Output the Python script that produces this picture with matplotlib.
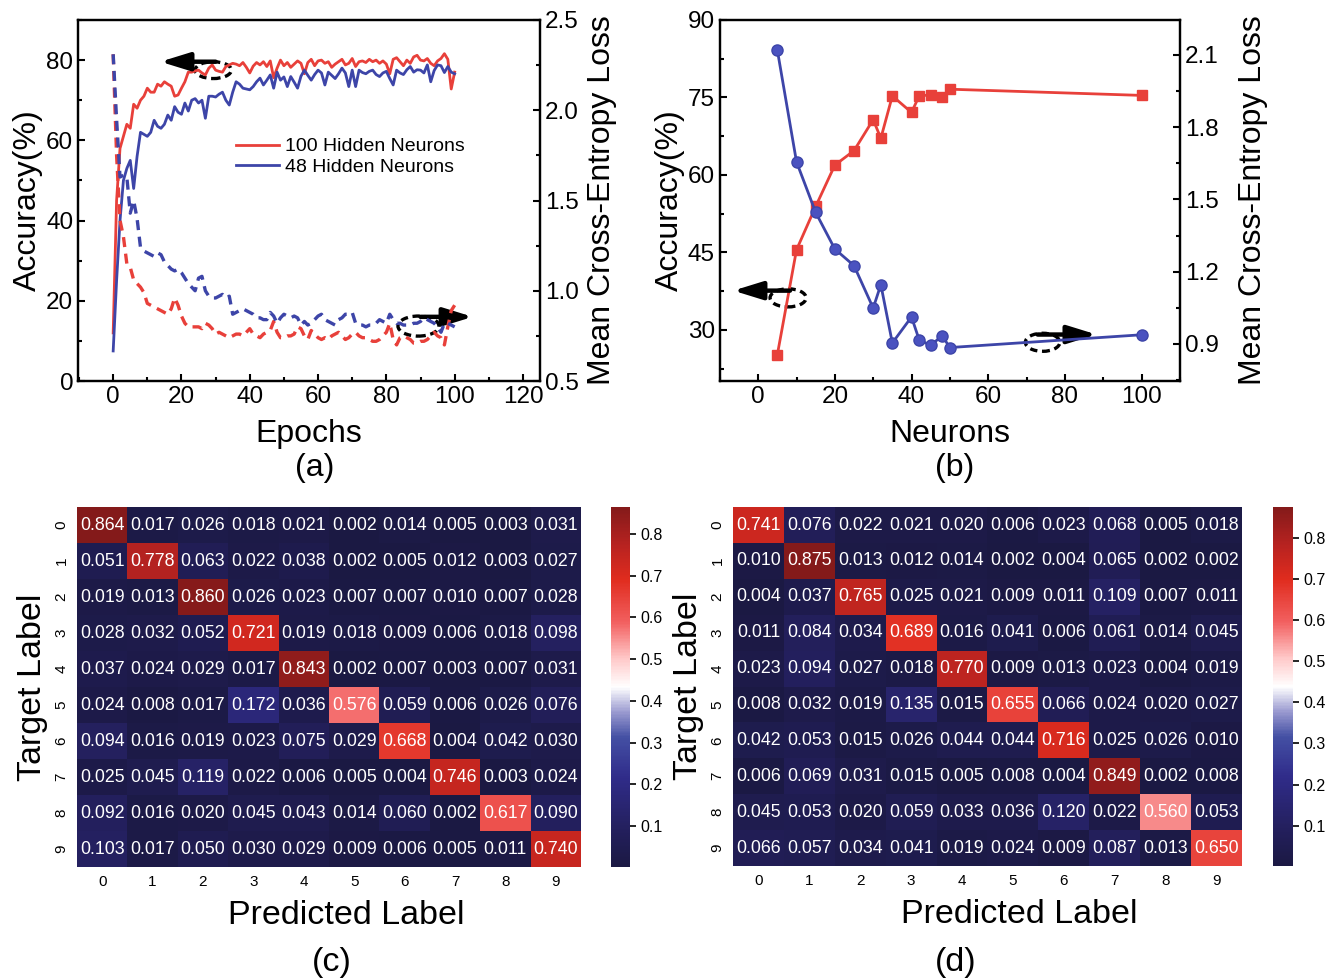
import numpy as np
import matplotlib
matplotlib.use('Agg')
import matplotlib.pyplot as plt
from matplotlib.colors import LinearSegmentedColormap
from matplotlib.patches import Ellipse
import seaborn as sns

plt.rcParams['font.family'] = ['Liberation Sans', 'DejaVu Sans']

### Data
epochs = np.arange(0, 101)
acc_100 = [12, 45, 58, 61, 64, 63, 69, 68, 70, 71, 73, 72, 72, 74, 73.5, 74.6, 74, 73.5, 71, 71.3,
           73, 74.6, 77, 77, 77.3, 77.5, 76.8, 76.3, 78, 78.8, 77.5, 77.2, 77, 78.4, 78.8, 79.2, 79, 78.6, 79.4, 78.2,
           76.8, 78.5, 79.4, 78.8, 79.6, 78.4, 79.8, 75.6, 78, 80, 78.6, 79.4, 78.2, 79, 79.8, 79.2, 76.6, 79.4, 80.2, 78.6,
           79.8, 80, 79.2, 79.6, 78.2, 79, 79.6, 80.2, 78.8, 79.2, 80.4, 78.4, 79.6, 79.8, 79.4, 80.2, 79.6, 80, 79.2, 79.8,
           79, 76.6, 80.2, 80.6, 79.6, 78.6, 80, 79.2, 80.8, 81.2, 80, 79.8, 80.4, 79.2, 78.6, 79.8, 80.4, 81.6, 80.2, 72.8,
           77]
acc_48 = [7.5, 25, 40, 50, 53, 55, 48, 56, 62, 61.5, 61, 62, 65, 63.5, 63, 64, 66.3, 65, 68.4, 67,
          66.5, 69.3, 67.3, 70, 70.4, 69.3, 70, 65.5, 71, 71, 70.8, 71.5, 72, 70, 68.8, 72, 74.6, 74, 73, 72.8,
          72.6, 73.4, 74.6, 75.5, 73.8, 75, 76.3, 73, 77, 75, 75.8, 73.4, 75.9, 74.5, 73, 76, 77.5, 76.2, 75, 76.4,
          77.5, 76.8, 73.8, 77, 76.2, 75.4, 76.6, 78, 76.8, 73.4, 77.5, 73.4, 77.5, 76.9, 76.6, 77.2, 77.5, 76.4, 75.9, 76.8,
          77.2, 75.4, 73.8, 77.5, 76.8, 76.4, 77.6, 78.4, 77, 77.6, 77.5, 76.8, 78.8, 74.6, 77.4, 78.8, 78.6, 76.9, 78.4, 77,
          76.6]
loss_100 = [2.31, 1.75, 1.39, 1.3, 1.15, 1.13, 1.06, 1.04, 1.02, 0.99, 0.93, 0.92, 0.91, 0.9, 0.89, 0.88, 0.87, 0.9, 0.96, 0.92,
            0.86, 0.82, 0.8, 0.8, 0.8, 0.8, 0.79, 0.82, 0.81, 0.79, 0.76, 0.77, 0.76, 0.75, 0.74, 0.75, 0.76, 0.76, 0.75, 0.77,
            0.79, 0.76, 0.75, 0.74, 0.76, 0.77, 0.78, 0.83, 0.77, 0.74, 0.74, 0.75, 0.75, 0.76, 0.8, 0.79, 0.75, 0.73, 0.78, 0.76,
            0.74, 0.73, 0.74, 0.73, 0.75, 0.76, 0.77, 0.75, 0.73, 0.74, 0.76, 0.77, 0.75, 0.74, 0.74, 0.73, 0.72, 0.72, 0.73, 0.75,
            0.77, 0.82, 0.73, 0.7, 0.74, 0.75, 0.74, 0.73, 0.71, 0.71, 0.72, 0.72, 0.73, 0.75, 0.77, 0.75, 0.74, 0.7, 0.8, 0.89,
            0.92]
loss_48 = [2.31, 1.95, 1.63, 1.64, 1.63, 1.43, 1.5, 1.4, 1.24, 1.22, 1.21, 1.2, 1.19, 1.21, 1.2, 1.16, 1.14, 1.12, 1.11, 1.12,
           1.1, 1.07, 1.04, 1.02, 1.0, 1.07, 1.08, 1.0, 0.97, 0.96, 0.96, 0.97, 0.98, 0.96, 0.97, 0.87, 0.88, 0.89, 0.9, 0.89,
           0.88, 0.87, 0.85, 0.85, 0.84, 0.84, 0.88, 0.86, 0.82, 0.85, 0.87, 0.86, 0.85, 0.86, 0.85, 0.81, 0.83, 0.81, 0.82, 0.84,
           0.86, 0.87, 0.84, 0.83, 0.82, 0.81, 0.84, 0.85, 0.87, 0.87, 0.88, 0.82, 0.81, 0.81, 0.8, 0.81, 0.81, 0.82, 0.84, 0.83,
           0.82, 0.87, 0.84, 0.82, 0.82, 0.81, 0.81, 0.81, 0.82, 0.82, 0.83, 0.85, 0.84, 0.83, 0.82, 0.8, 0.77, 0.82, 0.82, 0.81,
           0.8]

neurons = [5, 10, 15, 20, 25, 30, 32, 35, 40, 42, 45, 48, 50, 100]
acc_neurons = [25.2, 45.5, 53.9, 61.9, 64.7, 70.7, 67.1, 75.3, 72.1, 75.3, 75.5, 75.0, 76.6, 75.4]
loss_neurons = [2.12, 1.656, 1.446, 1.294, 1.225, 1.049, 1.146, 0.904, 1.012, 0.917, 0.894, 0.934, 0.885, 0.938]

digits = [str(i) for i in range(10)]
cm_c = np.array([
    [0.864, 0.017, 0.026, 0.018, 0.021, 0.002, 0.014, 0.005, 0.003, 0.031],
    [0.051, 0.778, 0.063, 0.022, 0.038, 0.002, 0.005, 0.012, 0.003, 0.027],
    [0.019, 0.013, 0.860, 0.026, 0.023, 0.007, 0.007, 0.010, 0.007, 0.028],
    [0.028, 0.032, 0.052, 0.721, 0.019, 0.018, 0.009, 0.006, 0.018, 0.098],
    [0.037, 0.024, 0.029, 0.017, 0.843, 0.002, 0.007, 0.003, 0.007, 0.031],
    [0.024, 0.008, 0.017, 0.172, 0.036, 0.576, 0.059, 0.006, 0.026, 0.076],
    [0.094, 0.016, 0.019, 0.023, 0.075, 0.029, 0.668, 0.004, 0.042, 0.030],
    [0.025, 0.045, 0.119, 0.022, 0.006, 0.005, 0.004, 0.746, 0.003, 0.024],
    [0.092, 0.016, 0.020, 0.045, 0.043, 0.014, 0.060, 0.002, 0.617, 0.090],
    [0.103, 0.017, 0.050, 0.030, 0.029, 0.009, 0.006, 0.005, 0.011, 0.740]])
cm_d = np.array([
    [0.741, 0.076, 0.022, 0.021, 0.020, 0.006, 0.023, 0.068, 0.005, 0.018],
    [0.010, 0.875, 0.013, 0.012, 0.014, 0.002, 0.004, 0.065, 0.002, 0.002],
    [0.004, 0.037, 0.765, 0.025, 0.021, 0.009, 0.011, 0.109, 0.007, 0.011],
    [0.011, 0.084, 0.034, 0.689, 0.016, 0.041, 0.006, 0.061, 0.014, 0.045],
    [0.023, 0.094, 0.027, 0.018, 0.770, 0.009, 0.013, 0.023, 0.004, 0.019],
    [0.008, 0.032, 0.019, 0.135, 0.015, 0.655, 0.066, 0.024, 0.020, 0.027],
    [0.042, 0.053, 0.015, 0.026, 0.044, 0.044, 0.716, 0.025, 0.026, 0.010],
    [0.006, 0.069, 0.031, 0.015, 0.005, 0.008, 0.004, 0.849, 0.002, 0.008],
    [0.045, 0.053, 0.020, 0.059, 0.033, 0.036, 0.120, 0.022, 0.560, 0.053],
    [0.066, 0.057, 0.034, 0.041, 0.019, 0.024, 0.009, 0.087, 0.013, 0.650]])

RED = '#e8403a'
BLUE = '#3d45a8'

cmap = LinearSegmentedColormap.from_list('rb', [
    (0.0, '#1b1943'), (0.1, '#231f5c'), (0.25, '#302c8a'), (0.36, '#4450a4'),
    (0.43, '#9a9ad0'), (0.5, '#ffffff'), (0.58, '#ffc8c8'), (0.68, '#f26060'),
    (0.8, '#e02c1e'), (0.9, '#b52220'), (1.0, '#841a1a')])

TICK_FS = 17.5
LABEL_FS = 23


def style_axis(ax):
    for s in ax.spines.values():
        s.set_linewidth(1.6)
    ax.tick_params(which='both', direction='in', width=1.5, labelsize=TICK_FS)
    ax.tick_params(which='major', length=5)
    ax.tick_params(which='minor', length=3)


def arrow_mark(ax, x0, x1, y, ex, ey, ew, eh):
    ax.annotate('', xy=(x1, y), xytext=(x0, y),
                arrowprops=dict(arrowstyle='-|>,head_length=1.1,head_width=0.34', lw=3.2, color='k',
                                mutation_scale=16, shrinkA=0, shrinkB=0))
    ax.add_patch(Ellipse((ex, ey), ew, eh, fill=False, ls=(0, (2.2, 1.4)), lw=2.4, color='k'))


fig = plt.figure(figsize=(13.38, 9.8), dpi=100)

### Panel (a)
ax = fig.add_axes([0.0583, 0.6112, 0.3453, 0.3684])
ax2 = ax.twinx()
ax.plot(epochs, acc_100, color=RED, lw=2, label='100 Hidden Neurons')
ax.plot(epochs, acc_48, color=BLUE, lw=2, label='48 Hidden Neurons')
ax2.plot(epochs, loss_100, color=RED, lw=2.4, ls=(0, (3, 2)))
ax2.plot(epochs, loss_48, color=BLUE, lw=2.4, ls=(0, (3, 2)))
ax.set_xlim(-10.3, 125)
ax.set_ylim(0, 90)
ax2.set_ylim(0.5, 2.5)
ax.set_xticks(range(0, 121, 20))
ax.set_xticks(range(-10, 126, 10), minor=True)
ax.set_yticks(range(0, 81, 20))
ax.set_yticks(range(10, 91, 20), minor=True)
ax2.set_yticks([0.5, 1.0, 1.5, 2.0, 2.5])
ax2.set_yticks([0.75, 1.25, 1.75, 2.25], minor=True)
style_axis(ax)
style_axis(ax2)
ax.set_xlabel('Epochs', fontsize=LABEL_FS, labelpad=8)
ax.set_ylabel('Accuracy(%)', fontsize=LABEL_FS, labelpad=2)
ax2.set_ylabel('Mean Cross-Entropy Loss', fontsize=LABEL_FS, labelpad=6)
ax.legend(loc='upper left', bbox_to_anchor=(0.325, 0.695), frameon=False, fontsize=14,
          handlelength=2.2, handletextpad=0.3, labelspacing=0.15, borderaxespad=0)
arrow_mark(ax, 30, 13.8, 79.6, 29.3, 77.5, 10.6, 4.2)
arrow_mark(ax, 90, 105.3, 16, 89.4, 13.7, 12, 5)

### Panel (b)
bx = fig.add_axes([0.538, 0.6112, 0.3438, 0.3684])
bx2 = bx.twinx()
bx.plot(neurons, acc_neurons, color=RED, lw=2, marker='s', ms=7)
bx2.plot(neurons, loss_neurons, color=BLUE, lw=2, marker='o', ms=8,
         mfc='#4a52c0', mec='#3d45a8')
bx.set_xlim(-10, 110)
bx.set_ylim(20.1, 90)
bx2.set_ylim(0.746, 2.245)
bx.set_xticks(range(0, 101, 20))
bx.set_xticks(range(-10, 111, 10), minor=True)
bx.set_yticks(range(30, 91, 15))
bx.set_yticks(np.arange(22.5, 90, 7.5), minor=True)
bx2.set_yticks([0.9, 1.2, 1.5, 1.8, 2.1])
bx2.set_yticks([0.75, 1.05, 1.35, 1.65, 1.95], minor=True)
style_axis(bx)
style_axis(bx2)
bx.set_xlabel('Neurons', fontsize=LABEL_FS, labelpad=8)
bx.set_ylabel('Accuracy(%)', fontsize=LABEL_FS, labelpad=2)
bx2.set_ylabel('Mean Cross-Entropy Loss', fontsize=LABEL_FS, labelpad=14)
arrow_mark(bx, 8.3, -6.5, 37.6, 7.8, 36.2, 9.4, 3.5)
arrow_mark(bx, 72.9, 88.3, 29.1, 74.2, 27.6, 9, 3.5)

fig.text(0.2354, 1 - 468 / 980, '(a)', fontsize=LABEL_FS, ha='center', va='center')
fig.text(0.7137, 1 - 468 / 980, '(b)', fontsize=LABEL_FS, ha='center', va='center')

### Panels (c), (d): confusion matrices
for cm, hpos, cpos, lab, labx, xlab_x in [
        (cm_c, [0.0575, 0.1153, 0.3767, 0.3673], [0.4567, 0.1153, 0.0142, 0.3673], '(c)', 332, 0.534),
        (cm_d, [0.5478, 0.1163, 0.3804, 0.3663], [0.9514, 0.1163, 0.0149, 0.3663], '(d)', 956, 0.562)]:
    hx = fig.add_axes(hpos)
    cax = fig.add_axes(cpos)
    sns.heatmap(cm, ax=hx, cbar_ax=cax, cmap=cmap, annot=True, fmt='.3f',
                annot_kws={'fontsize': 12.8, 'color': 'white'},
                xticklabels=digits, yticklabels=digits)
    hx.tick_params(length=0, labelsize=11, pad=6)
    hx.set_yticklabels(digits, rotation=90, va='center')
    hx.set_xlabel('Predicted Label', fontsize=24.5)
    hx.xaxis.set_label_coords(xlab_x, -0.136)
    hx.xaxis.label.set_va('center')
    hx.set_ylabel('Target Label', fontsize=24.5, labelpad=5)
    cbar = hx.collections[0].colorbar
    cbar.set_ticks([0.1, 0.2, 0.3, 0.4, 0.5, 0.6, 0.7, 0.8])
    cbar.outline.set_visible(False)
    cax.tick_params(labelsize=11.5, length=4, width=1.2)
    fig.text(labx / 1338, 1 - 962 / 980, lab, fontsize=24.5, ha='center', va='center')

fig.savefig('out.png', dpi=100)
